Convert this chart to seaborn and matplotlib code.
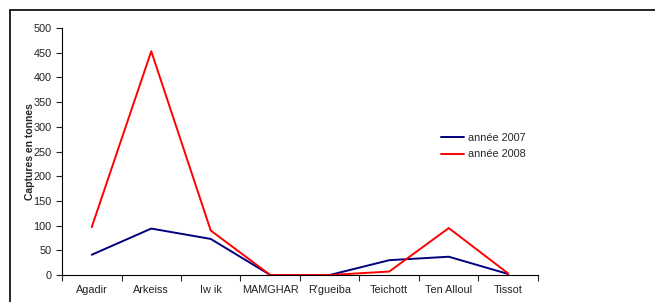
import numpy as np
import pandas as pd
import seaborn as sns
import matplotlib.pyplot as plt
from matplotlib.lines import Line2D

# data
sites = ["Agadir", "Arkeiss", "Iw ik", "MAMGHAR", "R'gueiba", "Teichott", "Ten Alloul", "Tissot"]
captures_2007 = [41, 94, 73, 0, 0, 30, 37, 2]
captures_2008 = [97, 453, 90, 0, 0, 7, 95, 3]
series_names = ["année 2007", "année 2008"]

df = pd.DataFrame({
    "site": sites * 2,
    "captures": captures_2007 + captures_2008,
    "serie": [series_names[0]] * len(sites) + [series_names[1]] * len(sites),
})

sns.set_style("white")
plt.rcParams["font.family"] = ["Liberation Sans", "DejaVu Sans"]

fig = plt.figure(figsize=(6.55, 3.02), dpi=100)
ax = fig.add_axes([62 / 655, 1 - 275 / 302, (538 - 62) / 655, (275 - 28) / 302])

sns.lineplot(data=df, x="site", y="captures", hue="serie",
             palette={series_names[0]: "#000080", series_names[1]: "#ff0000"},
             linewidth=1.4, ax=ax, sort=False)

ax.set_xlim(-0.5, len(sites) - 0.5)
ax.set_ylim(0, 500)
ax.set_yticks(np.arange(0, 501, 50))
ax.set_xticks(range(len(sites)))
ax.set_xticklabels(sites)
ax.set_xticks(np.arange(-0.5, len(sites), 1), minor=True)
ax.tick_params(axis="x", which="major", length=0, labelsize=7.8, pad=7, colors="#222222")
ax.tick_params(axis="x", which="minor", length=4, width=0.8, direction="out", bottom=True)
ax.tick_params(axis="y", length=4, width=0.8, direction="out", left=True, labelsize=7.8, colors="#222222")
ax.set_xlabel("")
ax.set_ylabel("Captures en tonnes", fontsize=7.5, fontweight="bold", labelpad=-1)

for side in ["top", "right"]:
    ax.spines[side].set_visible(False)
for side in ["left", "bottom"]:
    ax.spines[side].set_color("black")
    ax.spines[side].set_linewidth(0.8)

leg = ax.legend(loc="upper left", bbox_to_anchor=(0.775, 0.615), frameon=False,
                fontsize=7.8, handlelength=2.2, handletextpad=0.3, labelspacing=0.6)

# outer frame of the original picture
fig.add_artist(Line2D([10 / 655, 1], [1 - 10 / 302] * 2, color="black", lw=1.2))
fig.add_artist(Line2D([10 / 655] * 2, [0, 1 - 10 / 302], color="black", lw=1.2))

fig.savefig("out.png", dpi=100)
